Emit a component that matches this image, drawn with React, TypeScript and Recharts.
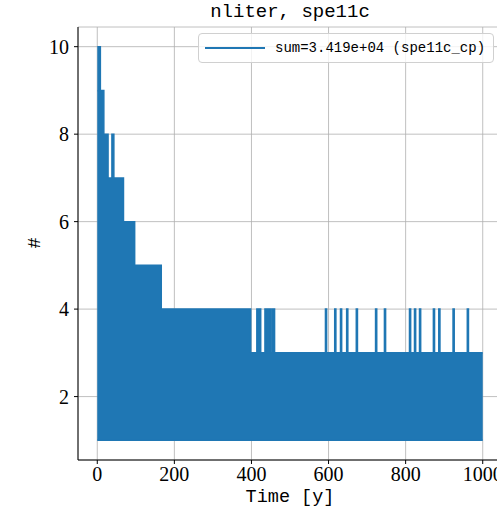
import React from "react";
import {
  ComposedChart,
  Area,
  XAxis,
  YAxis,
  CartesianGrid,
} from "recharts";

// envelope of the nliter trace: each step oscillates between 1 and the peak
const envTime = [
  0, 2, 8, 17, 28, 38, 43, 68, 97, 166, 398,
  414, 424, 435, 441, 444, 450, 454, 460, 592, 595, 616, 619, 631, 634,
  647, 650, 672, 675, 722, 725, 745, 748, 810, 813, 823, 826, 836, 839,
  872, 875, 886, 889, 923, 926, 960, 963, 1000,
];
const envPeak = [
  9, 10, 9, 8, 7, 8, 7, 6, 5, 4, 3,
  4, 3, 4, 3, 4, 3, 4, 3, 4, 3, 4, 3, 4, 3,
  4, 3, 4, 3, 4, 3, 4, 3, 4, 3, 4, 3, 4, 3,
  4, 3, 4, 3, 4, 3, 4, 3, 3,
];
const envLow = 1;

const xTicks = [0, 200, 400, 600, 800, 1000];
const yTicks = [2, 4, 6, 8, 10];
const legendText = "sum=3.419e+04 (spe11c_cp)";

const data = envTime.map((t, i) => ({ t, range: [envLow, envPeak[i]] }));

const blue = "#1f77b4";
const mono = "'Liberation Mono', 'DejaVu Sans Mono', monospace";
const serif = "'Liberation Serif', 'DejaVu Serif', serif";

export default function App() {
  return (
    <div
      style={{
        position: "absolute",
        left: 0,
        top: 0,
        width: 497,
        height: 514,
        overflow: "hidden",
        background: "#fff",
      }}
    >
      <div
        style={{
          position: "absolute",
          left: 0,
          width: 580,
          top: 1,
          textAlign: "center",
          fontFamily: mono,
          fontSize: 19,
          color: "#000",
        }}
      >
        nliter, spe11c
      </div>
      <ComposedChart
        width={520}
        height={514}
        data={data}
        margin={{ top: 27, right: 18, bottom: 0, left: 0 }}
      >
        <CartesianGrid stroke="#b0b0b0" strokeWidth={0.8} />
        <XAxis
          xAxisId="top"
          orientation="top"
          dataKey="t"
          type="number"
          domain={[-50, 1050]}
          height={0}
          tick={false}
          tickLine={false}
          axisLine={{ stroke: "#000", strokeWidth: 1 }}
        />
        <XAxis
          dataKey="t"
          type="number"
          domain={[-50, 1050]}
          ticks={xTicks}
          height={54}
          tickSize={4}
          tickMargin={3}
          interval={0}
          axisLine={{ stroke: "#000", strokeWidth: 1 }}
          tickLine={{ stroke: "#000" }}
          tick={{ fill: "#000", fontSize: 20, fontFamily: serif }}
        />
        <YAxis
          type="number"
          domain={[0.55, 10.45]}
          ticks={yTicks}
          width={78}
          tickSize={4}
          tickMargin={5}
          interval={0}
          axisLine={{ stroke: "#000", strokeWidth: 1 }}
          tickLine={{ stroke: "#000" }}
          tick={{ fill: "#000", fontSize: 20, fontFamily: serif }}
        />
        <Area
          dataKey="range"
          type="stepAfter"
          stroke={blue}
          strokeWidth={1.5}
          fill={blue}
          fillOpacity={1}
          isAnimationActive={false}
          dot={false}
          activeDot={false}
        />
      </ComposedChart>
      <div
        style={{
          position: "absolute",
          left: 0,
          width: 580,
          top: 487,
          textAlign: "center",
          fontFamily: mono,
          fontSize: 18.5,
          color: "#000",
        }}
      >
        Time [y]
      </div>
      <div
        style={{
          position: "absolute",
          left: 35,
          top: 243,
          transform: "translate(-50%, -50%) rotate(-90deg)",
          fontFamily: mono,
          fontSize: 18.5,
          color: "#000",
        }}
      >
        #
      </div>
      <div
        style={{
          position: "absolute",
          left: 198,
          top: 33,
          width: 294,
          height: 28,
          border: "1px solid #d0d0d0",
          borderRadius: 4,
          background: "rgba(255,255,255,0.8)",
          display: "flex",
          alignItems: "center",
        }}
      >
        <div
          style={{
            marginLeft: 6,
            width: 60,
            height: 0,
            borderTop: `2px solid ${blue}`,
          }}
        />
        <div
          style={{
            marginLeft: 10,
            fontFamily: mono,
            fontSize: 14,
            color: "#000",
            whiteSpace: "nowrap",
          }}
        >
          {legendText}
        </div>
      </div>
    </div>
  );
}
